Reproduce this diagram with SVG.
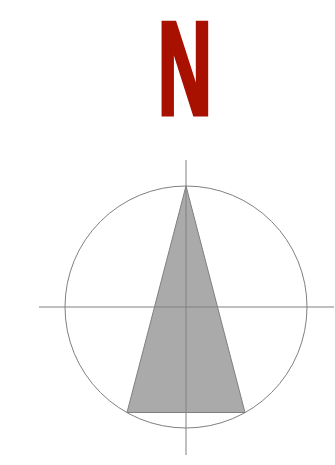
<svg xmlns="http://www.w3.org/2000/svg" width="335" height="465" viewBox="0 0 335 465">
<style>
.l{stroke:#808080;stroke-width:1;fill:none}
</style>
<rect width="335" height="465" fill="#fff"/>
<text x="158" y="113.500" textLength="53.800" lengthAdjust="spacingAndGlyphs" font-family="'Liberation Sans',Arial,sans-serif" font-weight="700" font-size="131" fill="#a81000" stroke="#a81000" stroke-width="5">N</text>
<circle class="l" cx="186" cy="307" r="121"/>
<polygon points="186,186 127,412.500 245,412.500" fill="#aaa" stroke="#808080" stroke-width="1"/>
<path class="l" d="M39 307H334M186 160V455"/>
</svg>
